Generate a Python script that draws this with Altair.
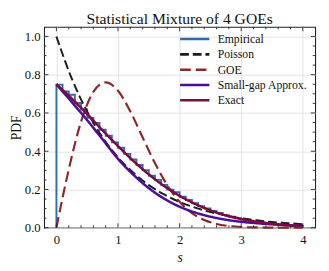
import altair as alt
import pandas as pd

# ---------------- data ----------------
NAMES = ["Empirical", "Poisson", "GOE", "Small-gap Approx.", "Exact"]
COLORS = ["#2b6db2", "#1c1c1c", "#8b2828", "#4c0e9a", "#7d0b40"]
DASHES = [[1, 0], [9, 4], [11, 5], [1, 0], [1, 0]]

S_CURVE = [0.0, 0.25, 0.5, 0.75, 1.0, 1.25, 1.5, 1.75, 2.0, 2.25, 2.5, 2.75,
           3.0, 3.25, 3.5, 3.75, 4.0]
POISSON = [1.0, 0.779, 0.607, 0.472, 0.368, 0.287, 0.223, 0.174, 0.135, 0.105,
           0.082, 0.064, 0.050, 0.039, 0.030, 0.024, 0.018]
SMALL_GAP = [0.750, 0.657, 0.562, 0.462, 0.360, 0.277, 0.207, 0.152, 0.110,
             0.080, 0.058, 0.042, 0.031, 0.024, 0.018, 0.013, 0.010]
EXACT = [0.750, 0.675, 0.594, 0.509, 0.427, 0.349, 0.279, 0.218, 0.167, 0.125,
         0.091, 0.065, 0.045, 0.031, 0.021, 0.013, 0.009]

S_GOE = [0.0, 0.2, 0.4, 0.6, 0.8, 1.0, 1.2, 1.4, 1.6, 1.8, 2.0, 2.2, 2.4, 2.6,
         2.8, 3.0, 3.2, 3.4, 3.6, 3.8, 4.0]
GOE = [0.0, 0.304, 0.554, 0.710, 0.760, 0.716, 0.608, 0.472, 0.337, 0.222,
       0.136, 0.077, 0.041, 0.020, 0.009, 0.004, 0.002, 0.001, 0.0, 0.0, 0.0]

BIN_EDGES = [0.0, 0.1, 0.2, 0.3, 0.4, 0.5, 0.6, 0.7, 0.8, 0.9, 1.0, 1.1, 1.2,
             1.3, 1.4, 1.5, 1.6, 1.7, 1.8, 1.9, 2.0, 2.1, 2.2, 2.3, 2.4, 2.5,
             2.6, 2.7, 2.8, 2.9, 3.0, 3.1, 3.2, 3.3, 3.4, 3.5, 3.6, 3.7, 3.8,
             3.9, 4.0]
HIST = [0.748, 0.712, 0.695, 0.652, 0.618, 0.574, 0.548, 0.512, 0.481, 0.446,
        0.418, 0.386, 0.357, 0.328, 0.301, 0.272, 0.250, 0.224, 0.199, 0.186,
        0.162, 0.145, 0.128, 0.113, 0.101, 0.088, 0.077, 0.066, 0.058, 0.050,
        0.043, 0.037, 0.032, 0.027, 0.023, 0.019, 0.016, 0.014, 0.011, 0.009]

X_TICKS = [0, 1, 2, 3, 4]
X_MINOR = [0.2, 0.4, 0.6, 0.8, 1.2, 1.4, 1.6, 1.8, 2.2, 2.4, 2.6, 2.8, 3.2,
           3.4, 3.6, 3.8]
Y_TICKS = [0.0, 0.2, 0.4, 0.6, 0.8, 1.0]
Y_MINOR = [0.05, 0.1, 0.15, 0.25, 0.3, 0.35, 0.45, 0.5, 0.55, 0.65, 0.7, 0.75,
           0.85, 0.9, 0.95]

TITLE = "Statistical Mixture of 4 GOEs"
FONT = "'Liberation Serif', 'Times New Roman', serif"
W, H = 278, 206

# ---------------- tables ----------------
rows = []
for name, xs, ys in [("Poisson", S_CURVE, POISSON), ("GOE", S_GOE, GOE),
                     ("Small-gap Approx.", S_CURVE, SMALL_GAP),
                     ("Exact", S_CURVE, EXACT)]:
    for x, y in zip(xs, ys):
        rows.append({"series": name, "s": x, "pdf": y})
curves = pd.DataFrame(rows)

hx = [BIN_EDGES[0]] + BIN_EDGES[:-1] + [BIN_EDGES[-1]]
hy = [0.0] + HIST + [0.0]
hist = pd.DataFrame({"s": hx, "pdf": hy, "i": list(range(len(hx))),
                     "series": "Empirical"})

x_scale = alt.Scale(domain=[-0.2, 4.2], nice=False, zero=False)
y_scale = alt.Scale(domain=[0, 1.05], nice=False, zero=False)

legend = alt.Legend(
    title=None, orient="none", legendX=148, legendY=6,
    symbolType="M-3,0H3", symbolSize=100, symbolStrokeWidth=2.6,
    labelFont=FONT, labelFontSize=12, labelColor="#111", labelOffset=17,
    padding=0, rowPadding=2.7, symbolOpacity=1,
)
color = alt.Color("series:N", scale=alt.Scale(domain=NAMES, range=COLORS),
                  legend=legend)
dash = alt.StrokeDash("series:N", scale=alt.Scale(domain=NAMES, range=DASHES),
                      legend=legend)

x_axis = alt.Axis(values=X_TICKS, format="d", grid=True, gridColor="#e3e3e3",
                  tickSize=0, labelPadding=6, titleFontStyle="italic",
                  titlePadding=5, domain=False)
y_axis = alt.Axis(values=Y_TICKS, format=".1f", grid=True, gridColor="#e3e3e3",
                  tickSize=0, labelPadding=4, titlePadding=1, domain=False)
x_enc = alt.X("s:Q", scale=x_scale, title="s", axis=x_axis)
y_enc = alt.Y("pdf:Q", scale=y_scale, title="PDF", axis=y_axis)

hist_layer = alt.Chart(hist).mark_line(
    interpolate="step-after", strokeWidth=1.9
).encode(x=x_enc, y=y_enc, color=color, strokeDash=dash, order="i:Q")

widths = {"Poisson": 2.0, "GOE": 2.2, "Small-gap Approx.": 2.6, "Exact": 2.6}
curve_layers = []
for name in ["Poisson", "GOE", "Small-gap Approx.", "Exact"]:
    curve_layers.append(
        alt.Chart(curves).transform_filter(alt.datum.series == name)
        .mark_line(interpolate="monotone", strokeWidth=widths[name])
        .encode(x=x_enc, y=y_enc, color=color, strokeDash=dash)
    )

tick_color = "#222"


def xticks(vals, length):
    df = pd.DataFrame({"s": vals})
    bot = alt.Chart(df).mark_rule(color=tick_color, strokeWidth=0.9).encode(
        x=x_enc, y=alt.value(H), y2=alt.value(H - length))
    top = alt.Chart(df).mark_rule(color=tick_color, strokeWidth=0.9).encode(
        x=x_enc, y=alt.value(0), y2=alt.value(length))
    return [bot, top]


def yticks(vals, length):
    df = pd.DataFrame({"pdf": vals})
    left = alt.Chart(df).mark_rule(color=tick_color, strokeWidth=0.9).encode(
        y=y_enc, x=alt.value(0), x2=alt.value(length))
    right = alt.Chart(df).mark_rule(color=tick_color, strokeWidth=0.9).encode(
        y=y_enc, x=alt.value(W), x2=alt.value(W - length))
    return [left, right]


tick_layers = (xticks(X_TICKS, 4.5) + xticks(X_MINOR, 2.5)
               + yticks(Y_TICKS, 4.5) + yticks(Y_MINOR, 2.5))

chart = alt.layer(hist_layer, *curve_layers, *tick_layers).properties(
    width=W, height=H,
    title=alt.Title(TITLE, font=FONT, fontSize=16, fontWeight="normal",
                    color="#111", offset=0),
    autosize=alt.AutoSizeParams(type="none"),
    padding={"left": 37, "top": 16, "right": 6, "bottom": 41},
).configure_view(
    stroke="#222", strokeWidth=1.1
).configure_axis(
    labelFont=FONT, labelFontSize=13, labelColor="#111",
    titleFont=FONT, titleFontSize=14, titleFontWeight="normal",
    titleColor="#111",
).configure_legend(
    labelFont=FONT, labelFontSize=12, labelColor="#111",
)

chart.save("out.html", embed_options={"renderer": "svg", "actions": False})
